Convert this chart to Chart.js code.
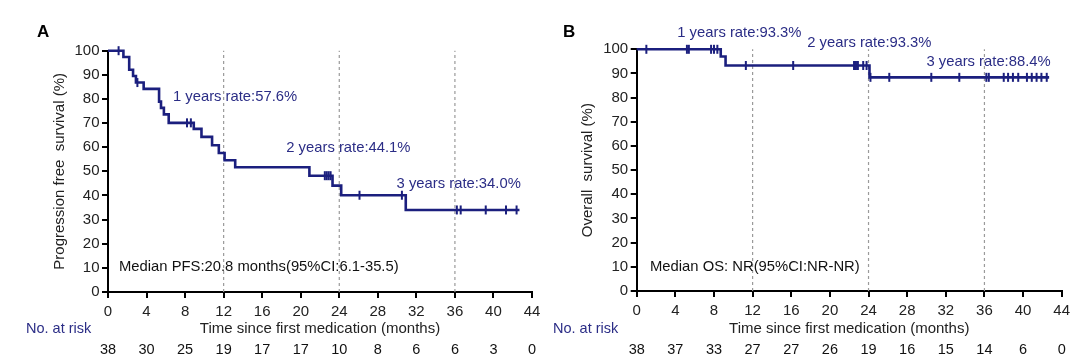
<!DOCTYPE html>
<html>
<head>
<meta charset="utf-8">
<title>PFS and OS</title>
<script src="https://cdn.jsdelivr.net/npm/chart.js@4.4.0/dist/chart.umd.min.js"></script>
<style>
  body { margin: 0; background: #fff; }
  #wrap { position: relative; width: 1080px; height: 362px; }
  #wrap canvas { position: absolute; left: 0; top: 0; }
</style>
</head>
<body>
<div id="wrap">
  <canvas id="pfschart" width="1080" height="362"></canvas>
  <canvas id="oschart" width="1080" height="362"></canvas>
</div>
<script>
// Two Kaplan-Meier panels (PFS and OS) with a number-at-risk row under each

var FONT = '"Liberation Sans", Arial, Helvetica, sans-serif';
var NAVY = "#1b1f7e";
var NAVY_TEXT = "#2b2d86";

// shared axis stuff
var yearMarks = [12, 24, 36];
var riskTimes = [0, 4, 8, 12, 16, 20, 24, 28, 32, 36, 40, 44];

// panel A - progression free survival
var pfsTime = [0, 1.6, 2.2, 2.6, 2.9, 3.7, 5.3, 5.5, 5.8, 6.3, 8.9, 9.7, 10.8, 11.5, 12.1, 13.2, 20.9, 23.3, 24.2, 30.9, 42.7];
var pfsSurv = [100, 97.4, 92.1, 89.5, 86.8, 84.2, 78.9, 76.3, 73.6, 70.1, 67.6, 64.3, 60.8, 57.6, 54.6, 51.7, 48.2, 44.1, 40.1, 34.0, 34.0];
var pfsCensorTime = [1.1, 3.05, 8.2, 8.6, 22.5, 22.7, 22.9, 23.1, 26.1, 30.5, 36.2, 36.6, 39.2, 41.3, 42.4];
var pfsCensorSurv = [100, 86.8, 70.1, 70.1, 48.2, 48.2, 48.2, 48.2, 40.1, 40.1, 34.0, 34.0, 34.0, 34.0, 34.0];
var pfsRisk = [38, 30, 25, 19, 17, 17, 10, 8, 6, 6, 3, 0];

// panel B - overall survival
var osTime = [0, 8.7, 9.2, 24.1, 42.7];
var osSurv = [100, 97.0, 93.3, 88.4, 88.4];
var osCensorTime = [1.0, 5.2, 5.4, 7.7, 8.0, 8.35, 11.3, 16.2, 22.5, 22.7, 22.9, 23.45, 23.8,
                    24.2, 26.15, 30.5, 33.4, 36.2, 36.45, 38.0, 38.45, 38.95, 39.5, 40.4, 40.9, 41.4, 41.9, 42.45];
var osCensorSurv = [100, 100, 100, 100, 100, 100, 93.3, 93.3, 93.3, 93.3, 93.3, 93.3, 93.3,
                    88.4, 88.4, 88.4, 88.4, 88.4, 88.4, 88.4, 88.4, 88.4, 88.4, 88.4, 88.4, 88.4, 88.4, 88.4];
var osRisk = [38, 37, 33, 27, 27, 26, 19, 16, 15, 14, 6, 0];


function to_points(xs, ys) {
    var pts = [];
    for (var i = 0; i < xs.length; i++) pts.push({x: xs[i], y: ys[i]});
    return pts;
}

// letters, rate notes and the at-risk row
var panel_text = {
    id: "panelText",
    afterDraw: function (chart, args, opts) {
        var ctx = chart.ctx;
        var xs = chart.scales.x, ys = chart.scales.y;
        ctx.save();
        ctx.textBaseline = "middle";
        ctx.textAlign = "left";
        ctx.font = "bold 17px " + FONT;
        ctx.fillStyle = "#000";
        ctx.fillText(opts.letter, opts.letterX, 32);

        ctx.font = "14.8px " + FONT;
        opts.notes.forEach(function (n) {
            ctx.fillStyle = n.color;
            ctx.fillText(n.text, xs.getPixelForValue(n.t), ys.getPixelForValue(n.s));
        });

        ctx.font = "14.5px " + FONT;
        ctx.fillStyle = NAVY_TEXT;
        ctx.fillText("No. at risk", opts.riskLabelX, 329);
        ctx.textAlign = "center";
        ctx.fillStyle = "#111";
        for (var i = 0; i < riskTimes.length; i++) {
            ctx.fillText(String(opts.risk[i]), xs.getPixelForValue(riskTimes[i]), 350);
        }
        ctx.restore();
    }
};

function make_chart(id, c) {
    var datasets = [
        {
            data: to_points(c.time, c.surv),
            showLine: true,
            stepped: true,
            borderColor: NAVY,
            borderWidth: 2.6,
            pointRadius: 0,
            clip: false,
            order: 1
        },
        {
            data: to_points(c.censorTime, c.censorSurv),
            showLine: false,
            pointStyle: "line",
            rotation: 90,
            pointRadius: 4.5,
            borderColor: NAVY,
            pointBorderWidth: 2,
            clip: false,
            order: 0
        }
    ];
    yearMarks.forEach(function (m) {
        datasets.push({
            data: [{x: m, y: 0}, {x: m, y: 100}],
            showLine: true,
            borderColor: "#9a9a9a",
            borderWidth: 1.2,
            borderDash: [3, 3],
            pointRadius: 0,
            clip: false,
            order: 2
        });
    });

    return new Chart(document.getElementById(id), {
        type: "scatter",
        data: {datasets: datasets},
        plugins: [panel_text],
        options: {
            responsive: false,
            animation: false,
            events: [],
            layout: {padding: c.padding},
            plugins: {
                legend: {display: false},
                tooltip: {enabled: false},
                panelText: {letter: c.letter, letterX: c.letterX, notes: c.notes, risk: c.risk, riskLabelX: c.riskLabelX}
            },
            scales: {
                x: {
                    type: "linear",
                    min: 0, max: 44,
                    afterFit: function (s) { s.height = c.xHeight; },
                    ticks: {stepSize: 4, autoSkip: false, maxRotation: 0, padding: 5,
                            color: "#222", font: {size: 15}},
                    grid: {drawOnChartArea: false, drawTicks: true, tickLength: 6, color: "#000", lineWidth: 2},
                    border: {display: true, color: "#000", width: 2},
                    title: {display: true, text: "Time since first medication (months)", color: "#222",
                            font: {size: 15}, padding: {top: 0, bottom: 24}}
                },
                y: {
                    min: 0, max: 100,
                    afterFit: function (s) { s.width = c.yWidth; },
                    ticks: {stepSize: 10, padding: 2.5, color: "#222", font: {size: 15}},
                    grid: {drawOnChartArea: false, drawTicks: true, tickLength: 6, color: "#000", lineWidth: 2},
                    border: {display: true, color: "#000", width: 2},
                    title: {display: true, text: c.yTitle, color: "#222",
                            font: {size: 15}, padding: {top: c.yTitlePad, bottom: 0}}
                }
            }
        }
    });
}

function main() {
    Chart.defaults.font.family = FONT;
    console.log("Drawing PFS panel...");
    make_chart("pfschart", {
        time: pfsTime, surv: pfsSurv, censorTime: pfsCensorTime, censorSurv: pfsCensorSurv, risk: pfsRisk,
        letter: "A", letterX: 37, riskLabelX: 26,
        yTitle: "Progression free  survival (%)", yTitlePad: 51,
        padding: {left: 0, right: 548, top: 50.7, bottom: 0},
        yWidth: 108, xHeight: 70,
        notes: [
            {text: "1 years rate:57.6%", t: 6.74, s: 80.8, color: NAVY_TEXT},
            {text: "2 years rate:44.1%", t: 18.5, s: 59.8, color: NAVY_TEXT},
            {text: "3 years rate:34.0%", t: 29.95, s: 44.8, color: NAVY_TEXT},
            {text: "Median PFS:20.8 months(95%CI:6.1-35.5)", t: 1.14, s: 10.5, color: "#111"}
        ]
    });
    console.log("Drawing OS panel...");
    make_chart("oschart", {
        time: osTime, surv: osSurv, censorTime: osCensorTime, censorSurv: osCensorSurv, risk: osRisk,
        letter: "B", letterX: 563, riskLabelX: 553,
        yTitle: "Overall  survival (%)", yTitlePad: 39,
        padding: {left: 540, right: 18.3, top: 49.3, bottom: 0},
        yWidth: 96.7, xHeight: 71,
        notes: [
            {text: "1 years rate:93.3%", t: 4.2, s: 106.6, color: NAVY_TEXT},
            {text: "2 years rate:93.3%", t: 17.66, s: 102.7, color: NAVY_TEXT},
            {text: "3 years rate:88.4%", t: 30.0, s: 94.9, color: NAVY_TEXT},
            {text: "Median OS: NR(95%CI:NR-NR)", t: 1.38, s: 10.05, color: "#111"}
        ]
    });
}

main();
</script>
</body>
</html>
